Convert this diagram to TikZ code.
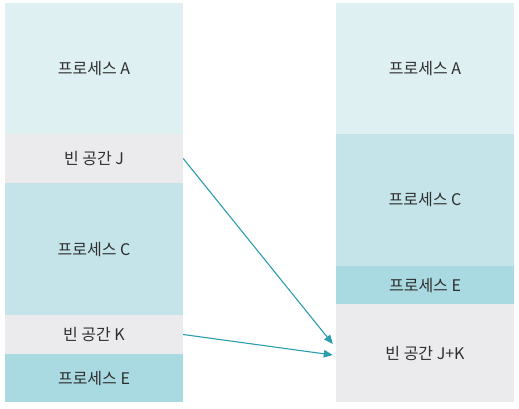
\documentclass[tikz,border=0pt]{standalone}
\usepackage{fontspec}
\setmainfont{Noto Sans CJK KR}
\usetikzlibrary{arrows.meta}
\definecolor{procA}{HTML}{DFF0F3}
\definecolor{procC}{HTML}{C5E4EA}
\definecolor{procE}{HTML}{A9D9E1}
\definecolor{freeblk}{HTML}{EBEBED}
\definecolor{arrowc}{HTML}{2A9DAE}
\definecolor{txt}{HTML}{2E2E2E}
\tikzset{
  blk/.style={draw=none, inner sep=0pt, text=txt, font=\fontsize{16}{16}\selectfont},
  mv/.style={draw=arrowc, line width=1.1pt, -{Triangle[length=9pt,width=7.5pt]}}
}
\begin{document}
\begin{tikzpicture}[x=1pt,y=-1pt]
\useasboundingbox (0,0) rectangle (519,408);
% left column
\node[blk, fill=procA, minimum width=178pt, minimum height=131pt] (la) at (94,68.5) {프로세스 A};
\node[blk, fill=freeblk, minimum width=178pt, minimum height=49pt] (lj) at (94,158.5) {빈 공간 J};
\node[blk, fill=procC, minimum width=178pt, minimum height=132pt] (lc) at (94,249) {프로세스 C};
\node[blk, fill=freeblk, minimum width=178pt, minimum height=39pt] (lk) at (94,334.5) {빈 공간 K};
\node[blk, fill=procE, minimum width=178pt, minimum height=48pt] (le) at (94,378) {프로세스 E};
% right column
\node[blk, fill=procA, minimum width=178pt, minimum height=131pt] (ra) at (425,68.5) {프로세스 A};
\node[blk, fill=procC, minimum width=178pt, minimum height=132pt] (rc) at (425,200) {프로세스 C};
\node[blk, fill=procE, minimum width=178pt, minimum height=38pt] (re) at (425,285) {프로세스 E};
\node[blk, fill=freeblk, minimum width=178pt, minimum height=98pt] (rjk) at (425,353) {빈 공간 J+K};
% arrows
\coordinate (e1) at ([xshift=-3pt,yshift=9pt]rjk.west);
\coordinate (e2) at ([xshift=-3pt,yshift=-2pt]rjk.west);
\draw[mv] (lj.east) -- (e1);
\draw[mv] (lk.east) -- (e2);
\end{tikzpicture}
\end{document}
